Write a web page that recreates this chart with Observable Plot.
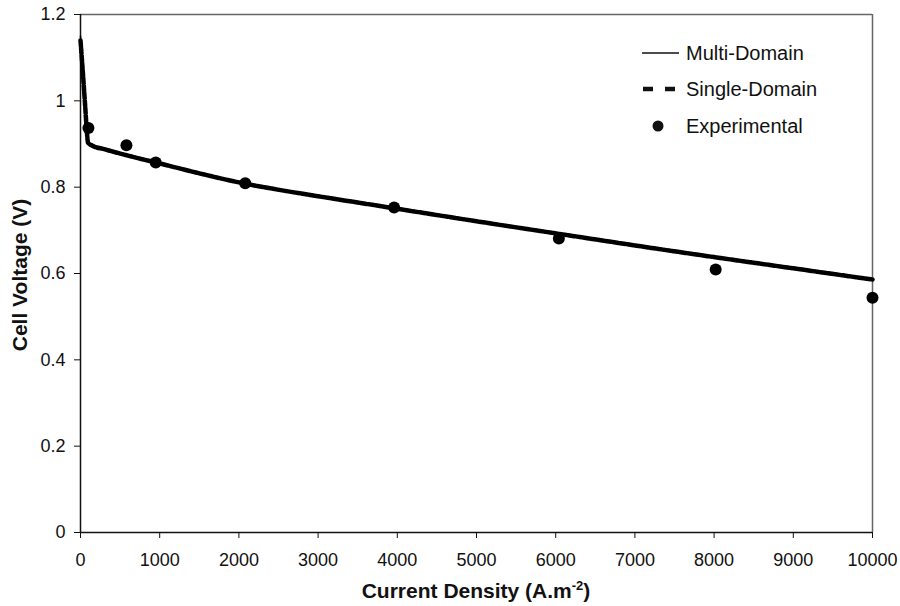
<!DOCTYPE html>
<html>
<head>
<meta charset="utf-8">
<script src="https://cdn.jsdelivr.net/npm/d3@7"></script>
<script src="https://cdn.jsdelivr.net/npm/@observablehq/plot@0.6"></script>
<style>
  html, body { margin: 0; padding: 0; background: #fff; }
  #wrap { position: relative; width: 900px; height: 606px; font-family: "Liberation Sans", Arial, sans-serif; }
  .ttl { position: absolute; font-weight: bold; font-size: 21px; color: #111; white-space: nowrap; line-height: 1; }
  #xt { left: 476px; top: 590px; transform: translate(-50%, -50%); }
  #yt { left: 19px; top: 275px; transform: translate(-50%, -50%) rotate(-90deg); }
  .lg { position: absolute; font-size: 20px; color: #111; white-space: nowrap; line-height: 1; transform: translateY(-50%); left: 686px; }
  #lgsw { position: absolute; left: 0; top: 0; width: 900px; height: 606px; pointer-events: none; }
  #chart svg text { font-size: 18px; }
</style>
</head>
<body>
<div id="wrap">
  <div id="chart"></div>
  <div class="ttl" id="yt">Cell Voltage (V)</div>
  <div class="ttl" id="xt">Current Density (A.m<sup style="font-size:13px">-2</sup>)</div>
  <svg id="lgsw">
    <line x1="642" x2="679" y1="53" y2="53" stroke="#111" stroke-width="1.3"/>
    <line x1="643" x2="676" y1="89" y2="89" stroke="#111" stroke-width="4.5" stroke-dasharray="10,12"/>
    <circle cx="658" cy="126" r="5.5" fill="#111"/>
  </svg>
  <div class="lg" style="top:53px">Multi-Domain</div>
  <div class="lg" style="top:89px">Single-Domain</div>
  <div class="lg" style="top:126px">Experimental</div>
</div>
<script>
// Multi-Domain model curve
const multiX = [0, 30, 60, 80, 90, 150, 300, 600, 1000, 1500, 2000, 2500, 3000, 4000, 5000, 6000, 7000, 8000, 9000, 10000];
const multiV = [1.15, 1.07, 0.99, 0.93, 0.905, 0.898, 0.89, 0.875, 0.857, 0.834, 0.813, 0.796, 0.781, 0.752, 0.723, 0.695, 0.667, 0.640, 0.614, 0.588];
// Single-Domain model curve
const singleX = [0, 30, 60, 80, 95, 150, 300, 600, 1000, 1500, 2000, 2500, 3000, 4000, 5000, 6000, 7000, 8000, 9000, 10000];
const singleV = [1.14, 1.065, 0.985, 0.93, 0.903, 0.896, 0.888, 0.873, 0.855, 0.832, 0.811, 0.794, 0.779, 0.750, 0.721, 0.693, 0.665, 0.638, 0.612, 0.586];
// Experimental points
const expX = [100, 580, 950, 2080, 3960, 6040, 8020, 10000];
const expV = [0.937, 0.897, 0.857, 0.809, 0.753, 0.681, 0.609, 0.544];
// Ticks
const xTicks = [0, 1000, 2000, 3000, 4000, 5000, 6000, 7000, 8000, 9000, 10000];
const yTicks = [0, 0.2, 0.4, 0.6, 0.8, 1, 1.2];

const multi = multiX.map((x, i) => ({x, v: multiV[i]}));
const single = singleX.map((x, i) => ({x, v: singleV[i]}));
const exp = expX.map((x, i) => ({x, v: expV[i]}));

const chart = Plot.plot({
  width: 900,
  height: 606,
  marginLeft: 80,
  marginRight: 28,
  marginTop: 14,
  marginBottom: 74,
  style: {fontFamily: "'Liberation Sans', Arial, sans-serif", fontSize: "18px", color: "#111", background: "#fff"},
  x: {domain: [0, 10000], label: null, axis: null},
  y: {domain: [0, 1.2], label: null, axis: null},
  marks: [
    Plot.ruleY([1.2], {stroke: "#666", strokeWidth: 1.5}),
    Plot.ruleX([10000], {stroke: "#666", strokeWidth: 1.5}),
    Plot.ruleX([0], {stroke: "#111", strokeWidth: 1.5}),
    Plot.ruleY([0], {stroke: "#111", strokeWidth: 1.5}),
    Plot.axisX({ticks: xTicks, tickFormat: d3.format("d"), tickSize: 6, tickPadding: 15, stroke: "#111", label: null}),
    Plot.axisY({ticks: yTicks, tickFormat: d3.format("~g"), tickSize: 6, tickPadding: 9, stroke: "#111", label: null}),
    Plot.line(single, {x: "x", y: "v", stroke: "#000", strokeWidth: 4.5, strokeDasharray: "6,1.5", curve: "monotone-x"}),
    Plot.line(multi, {x: "x", y: "v", stroke: "#000", strokeWidth: 1.5, curve: "monotone-x"}),
    Plot.dot(exp, {x: "x", y: "v", r: 6, fill: "#000", stroke: "none"})
  ]
});
document.getElementById("chart").appendChild(chart);
</script>
</body>
</html>
